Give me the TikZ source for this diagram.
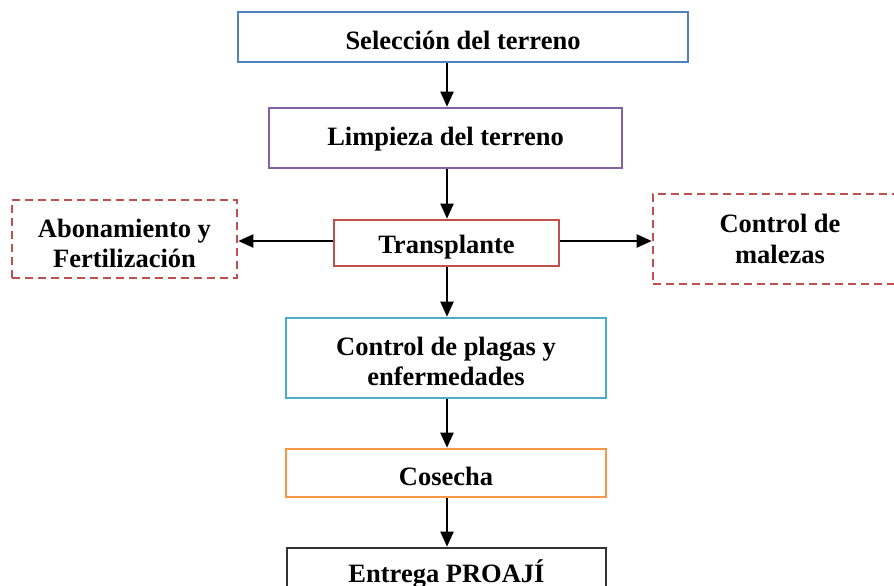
\documentclass[tikz,border=0pt]{standalone}
\usepackage{fontspec}
\setmainfont{Liberation Serif}
\usetikzlibrary{arrows.meta}
\definecolor{cblue}{HTML}{4F81BD}
\definecolor{cpurple}{HTML}{8064A2}
\definecolor{cred}{HTML}{C0504D}
\definecolor{cteal}{HTML}{4BACC6}
\definecolor{corange}{HTML}{F79646}
\definecolor{cgray}{HTML}{333333}
\newcommand\dnshift[2]{\raisebox{-#1}[\height][\depth]{#2}}
\tikzset{
  box/.style={draw, line width=2.6pt, rectangle, inner sep=0pt, align=center,
    font=\fontsize{26.5}{30.5}\selectfont\bfseries},
  dbox/.style={box, color=cred, text=black, dash pattern=on 8pt off 5pt},
  arr/.style={line width=2pt, -{Triangle[length=15pt,width=13pt]}}
}
\begin{document}
\begin{tikzpicture}[x=1pt,y=-1pt]
\path[use as bounding box] (0,0) rectangle (894,586);
\clip (0,0) rectangle (894,586);
\node[box, draw=cblue, minimum width=450pt, minimum height=50pt] (b1) at (463,37) {\dnshift{3pt}{Selección del terreno}};
\node[box, draw=cpurple, minimum width=353pt, minimum height=60pt] (b2) at (445.5,138) {\dnshift{1pt}{Limpieza del terreno}};
\node[box, draw=cred, minimum width=225pt, minimum height=46pt] (b3) at (446.5,243) {\dnshift{4pt}{Transplante}};
\node[dbox, minimum width=225pt, minimum height=78pt] (bl) at (124.5,239) {\dnshift{7.5pt}{\begin{tabular}{@{}c@{}}Abonamiento y\\Fertilización\end{tabular}}};
\node[dbox, minimum width=254pt, minimum height=90pt] (br) at (780,239) {Control de\\malezas};
\node[box, draw=cteal, minimum width=320pt, minimum height=80pt] (b4) at (446,358) {\dnshift{6.5pt}{\begin{tabular}{@{}c@{}}Control de plagas y\\enfermedades\end{tabular}}};
\node[box, draw=corange, minimum width=320pt, minimum height=48pt] (b5) at (446,473) {\dnshift{3pt}{Cosecha}};
\node[box, draw=cgray, minimum width=319pt, minimum height=48pt] (b6) at (446.5,572) {\dnshift{2pt}{Entrega PROAJÍ}};
\coordinate (ax) at (447,0);
\draw[arr] (b1.south -| ax) -- (b2.north -| ax);
\draw[arr] (b2.south -| ax) -- (b3.north -| ax);
\draw[arr] (b3.south -| ax) -- (b4.north -| ax);
\draw[arr] (b4.south -| ax) -- (b5.north -| ax);
\draw[arr] (b5.south -| ax) -- (b6.north -| ax);
\draw[arr] (b3.west |- 0,241) -- (bl.east |- 0,241);
\draw[arr] (b3.east |- 0,241) -- (br.west |- 0,241);
\end{tikzpicture}
\end{document}
